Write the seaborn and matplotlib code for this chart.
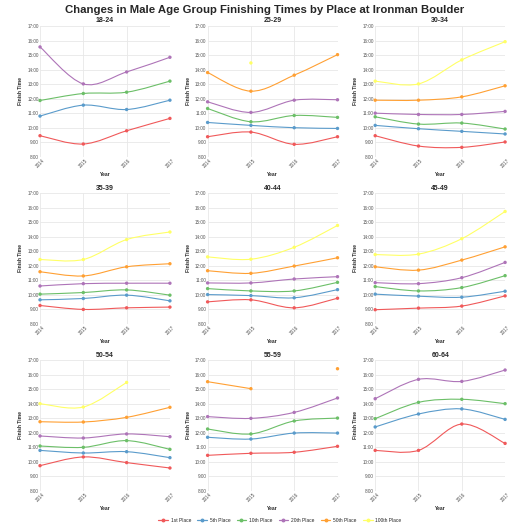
import numpy as np
import pandas as pd
import matplotlib
matplotlib.use("Agg")
import matplotlib.pyplot as plt
from matplotlib.path import Path
from matplotlib.patches import PathPatch
from matplotlib.lines import Line2D
import seaborn as sns

# Finish times in decimal hours, one list per place, values for 2014..2017 (nan = missing)
years = [2014, 2015, 2016, 2017]
places = ["1st Place", "5th Place", "10th Place", "20th Place", "50th Place", "100th Place"]
age_groups = ["18-24", "25-29", "30-34", "35-39", "40-44", "45-49", "50-54", "55-59", "60-64"]
nan = np.nan

t_18_24 = [[9.46, 8.89, 9.80, 10.65], [10.81, 11.56, 11.26, 11.90], [11.88, 12.36, 12.45, 13.21],
           [15.56, 13.02, 13.84, 14.85], [nan] * 4, [nan] * 4]
t_25_29 = [[9.39, 9.71, 8.87, 9.39], [10.37, 10.17, 10.01, 9.96], [11.33, 10.42, 10.85, 10.72],
           [11.79, 11.06, 11.90, 11.93], [13.80, 12.52, 13.62, 15.03], [nan, 14.46, nan, nan]]
t_30_34 = [[9.46, 8.75, 8.66, 9.03], [10.17, 9.94, 9.76, 9.58], [10.76, 10.26, 10.33, 9.92],
           [11.01, 10.92, 10.92, 11.13], [11.90, 11.90, 12.13, 12.89], [13.21, 13.02, 14.67, 15.92]]
t_35_39 = [[9.27, 9.00, 9.11, 9.16], [9.66, 9.75, 9.98, 9.59], [10.05, 10.16, 10.34, 9.98],
           [10.61, 10.77, 10.80, 10.80], [11.59, 11.30, 11.93, 12.14], [12.43, 12.43, 13.80, 14.32]]
t_40_44 = [[9.52, 9.66, 9.11, 9.77], [10.02, 9.95, 9.80, 10.36], [10.43, 10.27, 10.27, 10.86],
           [10.82, 10.82, 11.09, 11.25], [11.66, 11.48, 11.98, 12.55], [12.61, 12.45, 13.27, 14.77]]
t_45_49 = [[8.98, 9.09, 9.23, 9.93], [10.05, 9.91, 9.84, 10.25], [10.57, 10.27, 10.50, 11.32],
           [10.84, 10.77, 11.18, 12.23], [11.93, 11.70, 12.39, 13.30], [12.77, 12.80, 13.86, 15.73]]
t_50_54 = [[9.74, 10.34, 9.95, 9.58], [10.79, 10.61, 10.70, 10.29], [11.09, 11.00, 11.46, 10.86],
           [11.78, 11.64, 11.92, 11.73], [12.76, 12.74, 13.06, 13.75], [14.00, 13.77, 15.46, nan]]
t_55_59 = [[10.45, 10.59, 10.66, 11.07], [11.69, 11.57, 11.98, 11.98], [12.26, 11.92, 12.81, 13.01],
           [13.11, 12.99, 13.40, 14.39], [15.51, 15.03, nan, 16.40], [nan] * 4]
t_60_64 = [[10.79, 10.79, 12.60, 11.27], [12.40, 13.29, 13.64, 12.92], [12.97, 14.09, 14.30, 14.00],
           [14.34, 15.67, 15.53, 16.31], [nan] * 4, [nan] * 4]

all_times = [t_18_24, t_25_29, t_30_34, t_35_39, t_40_44, t_45_49, t_50_54, t_55_59, t_60_64]

rows = []
for grp, table in zip(age_groups, all_times):
    for place, vals in zip(places, table):
        for yr, v in zip(years, vals):
            rows.append({"group": grp, "Year": yr, "Place": place, "time": v})
df = pd.DataFrame(rows)

palette = dict(zip(places, ["#F0595A", "#5A9BCB", "#6CBF68", "#AE74B8", "#FFA033", "#FFFF66"]))


def smooth_path(xs, ys):
    # Catmull-Rom curve through the points, drawn as cubic Bezier segments
    pts = np.column_stack([xs, ys])
    verts = [pts[0]]
    codes = [Path.MOVETO]
    n = len(pts)
    for i in range(n - 1):
        p0 = pts[i - 1] if i > 0 else pts[i]
        p1, p2 = pts[i], pts[i + 1]
        p3 = pts[i + 2] if i + 2 < n else pts[i + 1]
        verts += [p1 + (p2 - p0) / 6, p2 - (p3 - p1) / 6, p2]
        codes += [Path.CURVE4] * 3
    return Path(verts, codes)


sns.set_style("whitegrid")
plt.rcParams["font.family"] = ["Liberation Sans", "DejaVu Sans"]

fig, axes = plt.subplots(3, 3, figsize=(5.3, 5.3), dpi=100)
for ax, grp in zip(axes.flat, age_groups):
    sub = df[df["group"] == grp].dropna()
    sns.scatterplot(data=sub, x="Year", y="time", hue="Place", palette=palette,
                    hue_order=places, s=6, linewidth=0, ax=ax, legend=False, zorder=3,
                    clip_on=False)
    for place in places:
        d = df[(df["group"] == grp) & (df["Place"] == place)]
        run_x, run_y = [], []
        for yr, v in zip(d["Year"], d["time"]):
            if np.isnan(v):
                if len(run_x) > 1:
                    ax.add_patch(PathPatch(smooth_path(run_x, run_y), fill=False,
                                           edgecolor=palette[place], lw=0.8, zorder=2))
                run_x, run_y = [], []
            else:
                run_x.append(yr)
                run_y.append(v)
        if len(run_x) > 1:
            ax.add_patch(PathPatch(smooth_path(run_x, run_y), fill=False,
                                   edgecolor=palette[place], lw=0.8, zorder=2))
    ax.set_xlim(2014, 2017)
    ax.set_ylim(8, 17)
    ax.set_xticks(years)
    ax.set_xticklabels([str(y) for y in years], rotation=45, fontsize=3.3, color="#555555")
    ax.set_yticks(range(8, 18))
    ax.set_yticklabels([f"{h}:00" for h in range(8, 18)], fontsize=3.3, color="#555555")
    ax.tick_params(length=0, pad=1)
    ax.grid(color="#E8E8E8", lw=0.6)
    for s in ax.spines.values():
        s.set_visible(False)
    ax.set_title(grp, fontsize=5, fontweight="bold", pad=2.5)
    ax.set_xlabel("Year", fontsize=3.6, fontweight="bold", labelpad=2)
    ax.set_ylabel("Finish Time", fontsize=3.6, fontweight="bold", labelpad=3)

handles = [Line2D([0], [0], color=palette[p], lw=0.9, marker="o", markersize=1.8) for p in places]
fig.legend(handles, places, loc="center", ncol=6, fontsize=3.5, frameon=False,
           bbox_to_anchor=(0.528, 10 / 530), handlelength=2.0, columnspacing=1.25, handletextpad=0.6)
fig.suptitle("Changes in Male Age Group Finishing Times by Place at Ironman Boulder",
             fontsize=8.2, fontweight="bold", y=0.982, va="center")
fig.subplots_adjust(left=0.0755, right=0.953, top=0.951, bottom=0.0736, wspace=0.29, hspace=0.275)
fig.savefig("out.png", dpi=100)
